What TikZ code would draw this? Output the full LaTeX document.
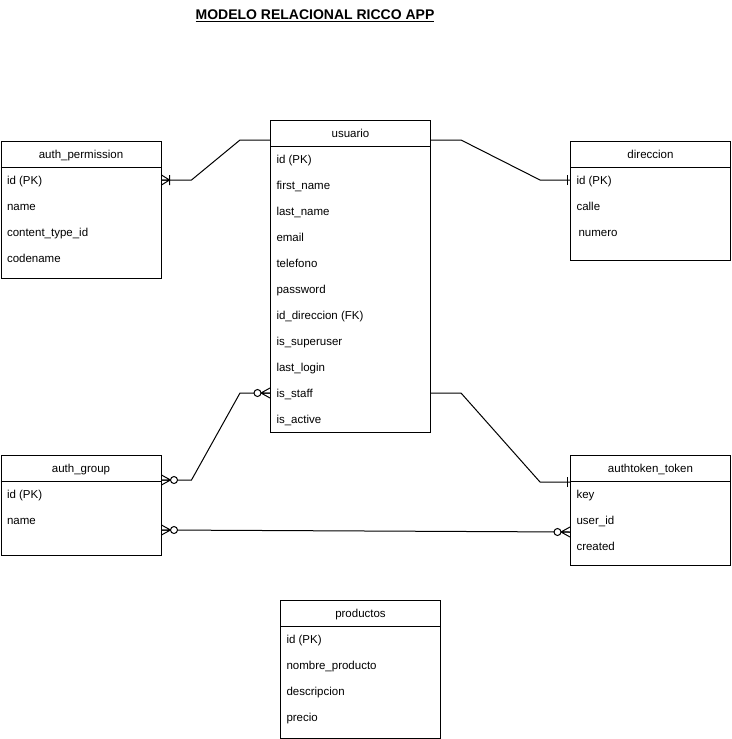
\documentclass[tikz,border=0pt]{standalone}
\usepackage{fontspec}
\setmainfont{Liberation Sans}
\usetikzlibrary{calc}

\begin{document}
\begin{tikzpicture}[x=1pt, y=-1pt, line width=1pt]

  \useasboundingbox (0,0) rectangle (731,739);

  \path
    coordinate (usuario)    at (270, 120)
    coordinate (permission) at (0.5, 141)
    coordinate (direccion)  at (570, 141)
    coordinate (group)      at (0.5, 455)
    coordinate (token)      at (570, 455)
    coordinate (productos)  at (280, 600)
    coordinate (title)      at (315, 16)
    ;

  % Title
  \node (Title) at (title) {\fontsize{14}{16}\selectfont\bfseries\underline{MODELO RELACIONAL RICCO APP}};

  \tikzset{tablestyle/.style = {draw, shape=rectangle, anchor=north west, minimum width=160pt, inner sep=0pt}}
  \tikzset{headstyle/.style = {anchor=base, inner sep=0pt, font=\fontsize{11.5}{13}\selectfont}}
  \tikzset{rowstyle/.style = {anchor=base west, inner sep=0pt, font=\fontsize{11.5}{13}\selectfont}}

  % usuario
  \node [tablestyle, minimum height=312pt] (Usuario) at (usuario) {};
  \draw (Usuario.north west) ++(0,26) -- ++(160,0);
  \node [headstyle] (Usuario-0) at ($(Usuario.north)+(0,17)$) {usuario};
  \foreach \txt [count=\i] in {id (PK), first\_name, last\_name, email, telefono, password,
      id\_direccion (FK), is\_superuser, last\_login, is\_staff, is\_active}
    \node [rowstyle] (Usuario-\i) at ($(Usuario.north west)+(6,17+26*\i)$) {\txt};

  % auth_permission
  \node [tablestyle, minimum height=137pt] (Permission) at (permission) {};
  \draw (Permission.north west) ++(0,26) -- ++(160,0);
  \node [headstyle] (Permission-0) at ($(Permission.north)+(0,17)$) {auth\_permission};
  \foreach \txt [count=\i] in {id (PK), name, content\_type\_id, codename}
    \node [rowstyle] (Permission-\i) at ($(Permission.north west)+(6,17+26*\i)$) {\txt};

  % direccion
  \node [tablestyle, minimum height=119pt] (Direccion) at (direccion) {};
  \draw (Direccion.north west) ++(0,26) -- ++(160,0);
  \node [headstyle] (Direccion-0) at ($(Direccion.north)+(0,17)$) {direccion};
  \foreach \txt [count=\i] in {id (PK), calle, \hspace{2pt}numero}
    \node [rowstyle] (Direccion-\i) at ($(Direccion.north west)+(6,17+26*\i)$) {\txt};

  % auth_group
  \node [tablestyle, minimum height=100pt] (Group) at (group) {};
  \draw (Group.north west) ++(0,26) -- ++(160,0);
  \node [headstyle] (Group-0) at ($(Group.north)+(0,17)$) {auth\_group};
  \foreach \txt [count=\i] in {id (PK), name}
    \node [rowstyle] (Group-\i) at ($(Group.north west)+(6,17+26*\i)$) {\txt};

  % authtoken_token
  \node [tablestyle, minimum height=110pt] (Token) at (token) {};
  \draw (Token.north west) ++(0,26) -- ++(160,0);
  \node [headstyle] (Token-0) at ($(Token.north)+(0,17)$) {authtoken\_token};
  \foreach \txt [count=\i] in {key, user\_id, created}
    \node [rowstyle] (Token-\i) at ($(Token.north west)+(6,17+26*\i)$) {\txt};

  % productos
  \node [tablestyle, minimum height=138pt] (Productos) at (productos) {};
  \draw (Productos.north west) ++(0,26) -- ++(160,0);
  \node [headstyle] (Productos-0) at ($(Productos.north)+(0,17)$) {productos};
  \foreach \txt [count=\i] in {id (PK), nombre\_producto, descripcion, precio}
    \node [rowstyle] (Productos-\i) at ($(Productos.north west)+(6,17+26*\i)$) {\txt};

  % ER end markers (drawn pointing at a box edge on their left)
  \tikzset{
    zeromany/.pic = {\draw (0,-5) -- (9,0) -- (0,5) (0,0) -- (9,0);
                     \draw [fill=white] (12.5,0) circle (3.5pt);},
    onemany/.pic  = {\draw (0,-5) -- (8,0) -- (0,5) (0,0) -- (8,0) (8,-5) -- (8,5);},
    onebar/.pic   = {\draw (3,-5) -- (3,5);}
  }

  % Connectors
  \tikzset{relstyle/.style = {draw, line width=1pt}}

  \path [relstyle] ($(Usuario.north west)+(0,20)$) -- ++(-30,0)
     -- ($(Permission.north east)+(30,39)$) -- ($(Permission.north east)+(0,39)$);
  \path ($(Permission.north east)+(0,39)$) pic {onemany};

  \path [relstyle] ($(Usuario.north east)+(0,20)$) -- ++(30,0)
     -- ($(Direccion.north west)+(-30,39)$) -- ($(Direccion.north west)+(0,39)$);
  \path ($(Direccion.north west)+(0,39)$) pic [rotate=180] {onebar};

  \path [relstyle] ($(Usuario.north west)+(0,273)$) -- ++(-30,0)
     -- ($(Group.north east)+(30,25)$) -- ($(Group.north east)+(0,25)$);
  \path ($(Usuario.north west)+(0,273)$) pic [rotate=180] {zeromany};
  \path ($(Group.north east)+(0,25)$) pic {zeromany};

  \path [relstyle] ($(Usuario.north east)+(0,273)$) -- ++(30,0)
     -- ($(Token.north west)+(-30,27)$) -- ($(Token.north west)+(0,27)$);
  \path ($(Token.north west)+(0,27)$) pic [rotate=180] {onebar};

  \path [relstyle] ($(Group.north east)+(0,75)$) -- ($(Token.north west)+(0,77)$);
  \path ($(Group.north east)+(0,75)$) pic {zeromany};
  \path ($(Token.north west)+(0,77)$) pic [rotate=180] {zeromany};

\end{tikzpicture}
\end{document}
